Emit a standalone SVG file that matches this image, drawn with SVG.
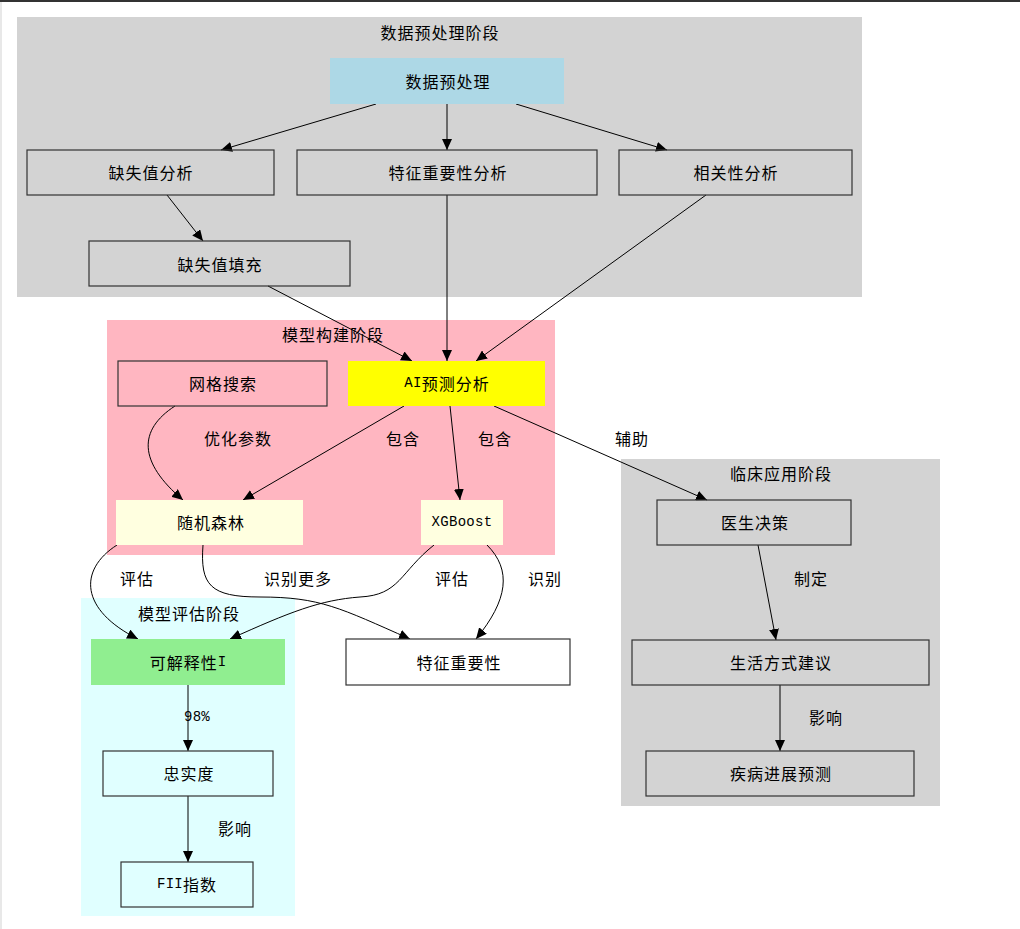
<svg xmlns="http://www.w3.org/2000/svg" width="1020" height="929" viewBox="0 0 1020 929">
<style>
text{font-family:"Noto Sans CJK SC","DejaVu Sans",sans-serif;font-size:16px;letter-spacing:1px;fill:#000;text-anchor:middle;dominant-baseline:central}
.l{font-family:"Liberation Mono","DejaVu Sans Mono",monospace;font-size:14px;letter-spacing:0.3px}
.n{stroke:#333;stroke-width:1.2}
.e{fill:none;stroke:#000;stroke-width:1}
</style>
<defs>
<marker id="a" markerWidth="12" markerHeight="10" refX="11" refY="5" orient="auto" markerUnits="userSpaceOnUse">
<path d="M0,0 L11,5 L0,10 Z" fill="#000"/>
</marker>
</defs>
<rect x="0" y="0" width="1020" height="929" fill="#fff"/>
<rect x="0" y="0" width="1020" height="2" fill="#333"/>
<rect x="0" y="2" width="2" height="927" fill="#e8e8e8"/>
<g id="cluster-preprocess">
<rect x="17" y="17" width="845" height="280" fill="#d3d3d3"/>
<text x="440" y="32">数据预处理阶段</text>
</g>
<g id="cluster-model">
<rect x="107" y="320" width="448" height="235" fill="#ffb6c1"/>
<text x="333" y="334">模型构建阶段</text>
</g>
<g id="cluster-clinic">
<rect x="621" y="459" width="319" height="347" fill="#d3d3d3"/>
<text x="781" y="473">临床应用阶段</text>
</g>
<g id="cluster-eval">
<rect x="81" y="598" width="214" height="318" fill="#e0ffff"/>
<text x="189" y="613">模型评估阶段</text>
</g>
<g id="edges">
<path class="e" d="M376,104 L221,150" marker-end="url(#a)"/>
<path class="e" d="M447,104 L447,150" marker-end="url(#a)"/>
<path class="e" d="M516,104 L667,150" marker-end="url(#a)"/>
<path class="e" d="M167,195 L203,241" marker-end="url(#a)"/>
<path class="e" d="M268,286 L412,361" marker-end="url(#a)"/>
<path class="e" d="M447,195 L447,361" marker-end="url(#a)"/>
<path class="e" d="M706,195 L476,361" marker-end="url(#a)"/>
<path class="e" d="M175,406 C138,430 138,462 183,500" marker-end="url(#a)"/>
<path class="e" d="M404,406 L243,500" marker-end="url(#a)"/>
<path class="e" d="M450,406 L460,500" marker-end="url(#a)"/>
<path class="e" d="M494,406 L707,500" marker-end="url(#a)"/>
<path class="e" d="M758,545 L776,640" marker-end="url(#a)"/>
<path class="e" d="M780,685 L780,751" marker-end="url(#a)"/>
<path class="e" d="M117,545 C78,570 80,610 138,639" marker-end="url(#a)"/>
<path class="e" d="M203,545 C200,585 210,597 260,597 C320,597 340,608 410,639" marker-end="url(#a)"/>
<path class="e" d="M434,545 C400,572 400,595 360,597 C320,600 290,612 230,639" marker-end="url(#a)"/>
<path class="e" d="M487,545 C512,570 508,600 476,639" marker-end="url(#a)"/>
<path class="e" d="M188,685 L188,751" marker-end="url(#a)"/>
<path class="e" d="M188,796 L188,862" marker-end="url(#a)"/>
<text x="238" y="438">优化参数</text>
<text x="403" y="438">包含</text>
<text x="495" y="438">包含</text>
<text x="632" y="438">辅助</text>
<text x="811" y="578">制定</text>
<text x="826" y="717">影响</text>
<text x="137" y="578">评估</text>
<text x="298" y="578">识别更多</text>
<text x="452" y="578">评估</text>
<text x="545" y="578">识别</text>
<text class="l" x="197" y="717">98%</text>
<text x="235" y="828">影响</text>
</g>
<g id="n-preprocess"><rect x="330" y="58" width="234" height="46" fill="#add8e6"/><text x="448" y="81">数据预处理</text></g>
<g id="n-missing"><rect class="n" x="27" y="150" width="247" height="45" fill="none"/><text x="151" y="172">缺失值分析</text></g>
<g id="n-featimp"><rect class="n" x="297" y="150" width="300" height="45" fill="none"/><text x="448" y="172">特征重要性分析</text></g>
<g id="n-corr"><rect class="n" x="619" y="150" width="233" height="45" fill="none"/><text x="736" y="172">相关性分析</text></g>
<g id="n-fill"><rect class="n" x="89" y="241" width="261" height="45" fill="none"/><text x="220" y="264">缺失值填充</text></g>
<g id="n-grid"><rect class="n" x="118" y="361" width="209" height="45" fill="none"/><text x="223" y="383">网格搜索</text></g>
<g id="n-ai"><rect x="348" y="361" width="197" height="45" fill="#ffff00"/><text x="447" y="383"><tspan class="l">AI</tspan>预测分析</text></g>
<g id="n-rf"><rect x="116" y="500" width="187" height="45" fill="#ffffe0"/><text x="211" y="522">随机森林</text></g>
<g id="n-xgb"><rect x="421" y="500" width="82" height="45" fill="#ffffe0"/><text class="l" x="462" y="522">XGBoost</text></g>
<g id="n-doctor"><rect class="n" x="657" y="500" width="194" height="45" fill="none"/><text x="755" y="522">医生决策</text></g>
<g id="n-life"><rect class="n" x="632" y="640" width="297" height="45" fill="none"/><text x="781" y="662">生活方式建议</text></g>
<g id="n-disease"><rect class="n" x="646" y="751" width="268" height="45" fill="none"/><text x="781" y="773">疾病进展预测</text></g>
<g id="n-interp"><rect x="91" y="639" width="194" height="46" fill="#90ee90"/><text x="188" y="662">可解释性<tspan class="l">I</tspan></text></g>
<g id="n-faith"><rect class="n" x="103" y="751" width="170" height="45" fill="none"/><text x="189" y="773">忠实度</text></g>
<g id="n-fii"><rect class="n" x="121" y="862" width="132" height="45" fill="none"/><text x="187" y="884"><tspan class="l">FII</tspan>指数</text></g>
<g id="n-featimp2"><rect class="n" x="346" y="639" width="224" height="46" fill="#fff"/><text x="459" y="662">特征重要性</text></g>
</svg>
